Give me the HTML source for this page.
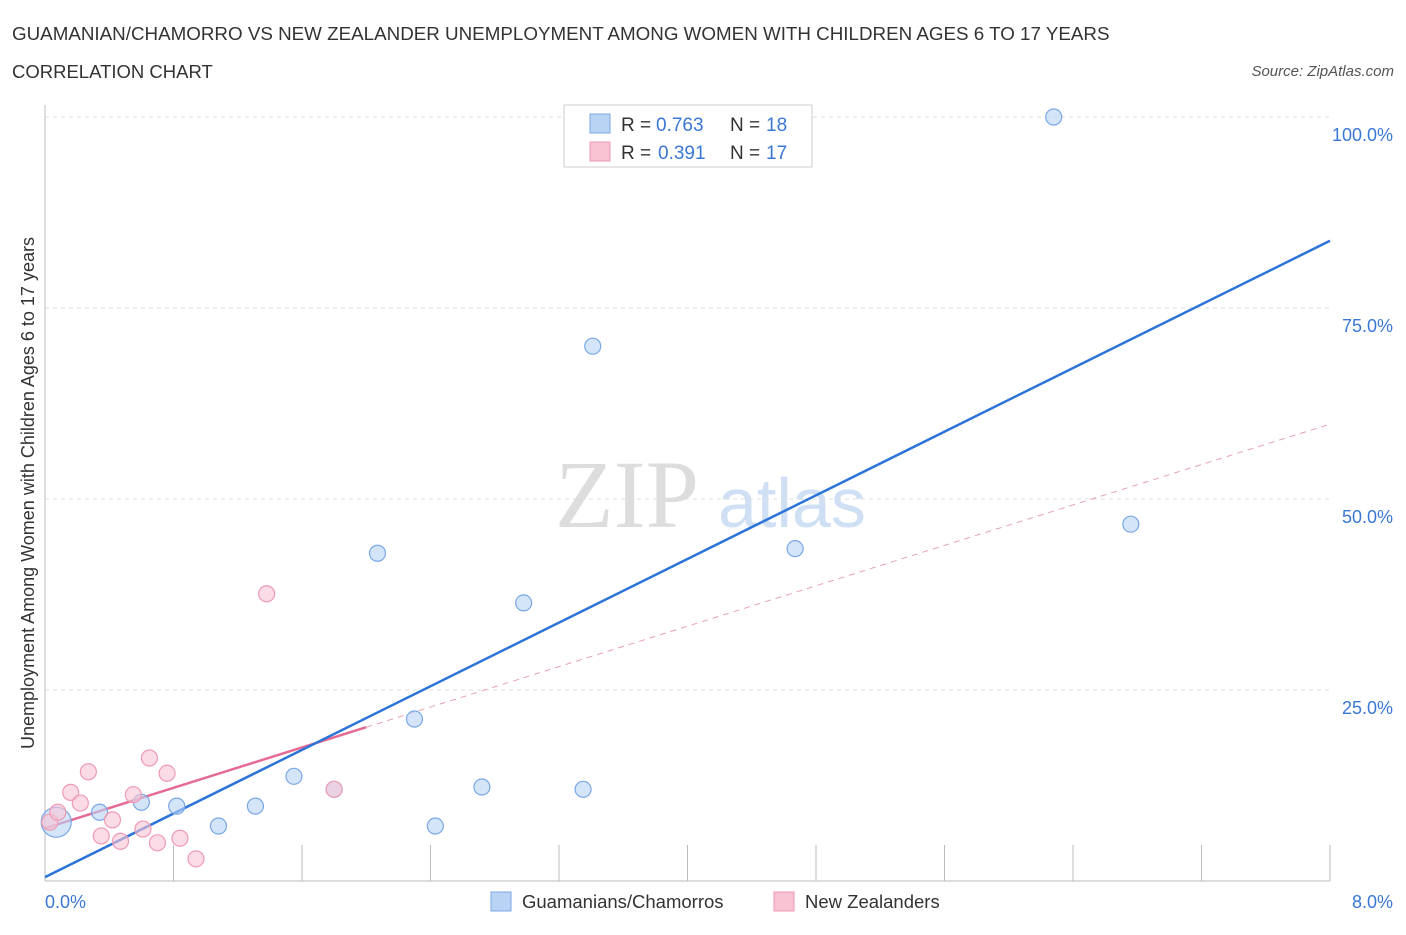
<!DOCTYPE html>
<html><head><meta charset="utf-8"><style>
body{margin:0;background:#fff;font-family:"Liberation Sans",sans-serif}
</style></head><body>
<svg width="1406" height="930" xmlns="http://www.w3.org/2000/svg" style="font-family:'Liberation Sans',sans-serif">
<text x="12" y="40" font-size="18.8" fill="#333">GUAMANIAN/CHAMORRO VS NEW ZEALANDER UNEMPLOYMENT AMONG WOMEN WITH CHILDREN AGES 6 TO 17 YEARS</text>
<text x="12" y="78" font-size="18.5" fill="#333">CORRELATION CHART</text>
<text x="1394" y="76" font-size="15" fill="#555" font-style="italic" text-anchor="end">Source: ZipAtlas.com</text>
<text x="555" y="527" font-size="96" fill="#ddd" font-family="Liberation Serif">ZIP</text>
<text x="718" y="527" font-size="70" fill="#cfe0f5">atlas</text>
<g id="grid"></g>
<g id="axes"></g>
<g id="lines"></g>
<g id="points"></g>
<text transform="translate(34,493) rotate(-90)" font-size="18" fill="#333" text-anchor="middle">Unemployment Among Women with Children Ages 6 to 17 years</text>
<text x="45" y="908" font-size="18" fill="#3a78d4">0.0%</text>
<text x="1393" y="908" font-size="18" fill="#3a78d4" text-anchor="end">8.0%</text>
<g>
<rect x="564" y="105" width="248" height="62" fill="#fff" stroke="#ccc"/>
<rect x="590" y="114" width="20" height="19" fill="#b9d3f5" stroke="#7aa7e6"/>
<rect x="590" y="142" width="20" height="19" fill="#f9c3d3" stroke="#ee9ab4"/>
<text x="621" y="131" font-size="19" fill="#333">R =</text>
<text x="656" y="131" font-size="19" fill="#3a78d4">0.763</text>
<text x="730" y="131" font-size="19" fill="#333">N =</text>
<text x="766" y="131" font-size="19" fill="#3a78d4">18</text>
<text x="621" y="159" font-size="19" fill="#333">R =</text>
<text x="658" y="159" font-size="19" fill="#3a78d4">0.391</text>
<text x="730" y="159" font-size="19" fill="#333">N =</text>
<text x="766" y="159" font-size="19" fill="#3a78d4">17</text>
</g>
<g>
<rect x="491" y="892" width="20" height="19" fill="#b9d3f5" stroke="#7aa7e6"/>
<text x="522" y="908" font-size="18.5" fill="#333">Guamanians/Chamorros</text>
<rect x="774" y="892" width="20" height="19" fill="#f9c3d3" stroke="#ee9ab4"/>
<text x="805" y="908" font-size="18.5" fill="#333">New Zealanders</text>
</g>
</svg>
<script>
const yTicks=[25,50,75,100];
const yTickLabels=["25.0%","50.0%","75.0%","100.0%"];
const xTicks=[0,0.8,1.6,2.4,3.2,4.0,4.8,5.6,6.4,7.2,8.0];
const blueX=[0.07,0.34,0.60,0.82,1.08,1.31,1.55,1.80,2.07,2.30,2.43,2.72,2.98,3.35,3.41,4.67,6.28,6.76];
const blueY=[7.7,9.0,10.3,9.8,7.2,9.8,13.7,12.0,42.9,21.2,7.2,12.3,36.4,12.0,70.0,43.5,100,46.7];
const blueR=[15,8,8,8,8,8,8,8,8,8,8,8,8,8,8,8,8,8];
const pinkX=[0.03,0.08,0.16,0.22,0.27,0.35,0.42,0.47,0.55,0.61,0.65,0.70,0.76,0.84,0.94,1.38,1.80];
const pinkY=[7.7,9.0,11.6,10.2,14.3,5.9,8.0,5.2,11.3,6.8,16.1,5.0,14.1,5.6,2.9,37.6,12.0];
const blueFit=[0.5,83.8];
const pinkFit=[6.9,59.8];
const pinkSolidEnd=2.0;
const X=v=>45+v/8*1285, Y=v=>881-v/100*764;
const NS="http://www.w3.org/2000/svg";
function mk(tag,attrs,parent){const e=document.createElementNS(NS,tag);for(const k in attrs)e.setAttribute(k,attrs[k]);document.getElementById(parent).appendChild(e);return e;}
yTicks.forEach((t,i)=>{
 const l=mk('line',{x1:45,x2:1330,y1:Y(t),y2:Y(t),stroke:'#ddd','stroke-dasharray':'4,4'},'grid');
 
 
 const tx=mk('text',{x:1393,y:Y(t)+24,'font-size':18,fill:'#3a78d4','text-anchor':'end'},'grid');
 tx.textContent=yTickLabels[i];
 
 
});
let a=mk('line',{x1:45,x2:45,y1:105,y2:881,stroke:'#bbb'},'axes');


a=mk('line',{x1:45,x2:1330,y1:881,y2:881,stroke:'#bbb'},'axes');


xTicks.forEach(t=>{
 const l=mk('line',{x1:X(t),x2:X(t),y1:845,y2:881,stroke:'#bbb'},'axes');
 
 
});
const py=(f,x)=>f[0]+(f[1]-f[0])*x/8;
let l=mk('line',{x1:X(pinkSolidEnd),y1:Y(py(pinkFit,pinkSolidEnd)),x2:X(8),y2:Y(py(pinkFit,8)),stroke:'#e8a0b6','stroke-dasharray':'6,5','stroke-width':1},'lines');


l=mk('line',{x1:X(0),y1:Y(py(pinkFit,0)),x2:X(pinkSolidEnd),y2:Y(py(pinkFit,pinkSolidEnd)),stroke:'#e66b94','stroke-width':2.5},'lines');


l=mk('line',{x1:X(0),y1:Y(py(blueFit,0)),x2:X(8),y2:Y(py(blueFit,8)),stroke:'#2d74d8','stroke-width':2.5},'lines');


blueX.forEach((x,i)=>{
 const c=mk('circle',{cx:X(x),cy:Y(blueY[i]),r:blueR[i],fill:'rgba(185,211,245,0.6)',stroke:'#7aa7e6','stroke-width':1.2},'points');
 
 
});
pinkX.forEach((x,i)=>{
 const c=mk('circle',{cx:X(x),cy:Y(pinkY[i]),r:8,fill:'rgba(249,195,211,0.6)',stroke:'#ee9ab4','stroke-width':1.2},'points');
 
 
});
</script>
</body></html>
